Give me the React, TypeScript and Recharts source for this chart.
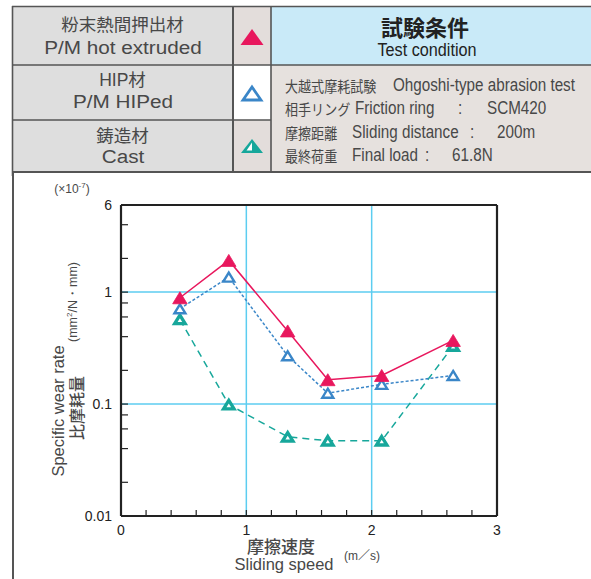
import { LineChart, Line, XAxis, YAxis, ReferenceLine } from 'recharts'

// sliding speed (m/s) and specific wear rate (x10^-7 mm2/N·mm)
const speeds = [0.47, 0.86, 1.33, 1.65, 2.08, 2.65]
const hotExtruded = [0.89, 1.92, 0.45, 0.165, 0.18, 0.37]
const hiped = [0.71, 1.36, 0.27, 0.125, 0.15, 0.18]
const cast = [0.57, 0.099, 0.051, 0.047, 0.047, 0.33]

const xTicks = [0, 0.2, 0.4, 0.6, 0.8, 1, 1.2, 1.4, 1.6, 1.8, 2, 2.2, 2.4, 2.6, 2.8, 3]
const xLabels = [0, 1, 2, 3]
const yTicks = [0.01, 0.02, 0.04, 0.06, 0.08, 0.1, 0.2, 0.4, 0.6, 0.8, 1, 2, 4, 6]
const yLabels = [0.01, 0.1, 1, 6]
const gridX = [1, 2]
const gridY = [0.1, 1]

const materialJa = ['粉末熱間押出材', 'HIP材', '鋳造材']
const materialEn = ['P/M hot extruded', 'P/M HIPed', 'Cast']
const conditionJa = ['大越式摩耗試験', '相手リング', '摩擦距離', '最終荷重']
const conditionEn = ['Ohgoshi-type abrasion test', 'Friction ring', 'Sliding distance', 'Final load']
const conditionValue = ['', 'SCM420', '200m', '61.8N']

const RED = '#e8175d'
const BLUE = '#3a86c8'
const TEAL = '#17a79b'
const GRID = '#5ccdf0'
const INK = '#222'
const TEXT = '#484848'
const LINE = '#555'
const SANS = '"Liberation Sans", Arial, sans-serif'
const CJK = '"Liberation Sans", "Noto Sans CJK JP", sans-serif'

// layout of the table
const matJaY = [26, 80.5, 137]
const matEnY = [47.5, 102, 157]
const condY = [86, 109, 133, 156]
const condEnX = [393, 355, 352, 352]
const condColonX = [0, 458, 470, 425]
const condValX = [0, 487, 497, 452]

const toPoints = (ys: number[]) => speeds.map((x, i) => ({ x, y: ys[i] }))

const triPath = (cx: number, cy: number, w: number, h: number) =>
  `M${cx},${cy - h / 2}L${cx + w / 2},${cy + h / 2}L${cx - w / 2},${cy + h / 2}Z`

function Txt({ x, y, size, children, scale = 1, weight = 400, left = false, rotate = false, font = CJK, color = TEXT }: any) {
  let transform = left ? 'translate(0,-50%)' : 'translate(-50%,-50%)'
  if (rotate) transform += ' rotate(-90deg)'
  if (scale !== 1) transform += ` scaleX(${scale})`
  return (
    <div
      style={{
        position: 'absolute',
        left: x,
        top: y,
        transform,
        transformOrigin: left ? 'left center' : 'center center',
        fontSize: size,
        fontWeight: weight,
        fontFamily: font,
        color,
        lineHeight: 1,
        whiteSpace: 'nowrap',
      }}
    >
      {children}
    </div>
  )
}

function YTick(props: any) {
  const { x, y, payload } = props
  if (!yLabels.includes(payload.value)) return <g />
  return (
    <text x={x} y={y} dy="0.36em" textAnchor="end" fontSize={14} fill={INK} fontFamily={SANS}>
      {String(payload.value)}
    </text>
  )
}

function XTick(props: any) {
  const { x, y, payload } = props
  if (!xLabels.includes(payload.value)) return <g />
  return (
    <text x={x} y={y} dy="0.71em" textAnchor="middle" fontSize={14} fill={INK} fontFamily={SANS}>
      {String(payload.value)}
    </text>
  )
}

const redDot = (p: any) => (
  <path key={`r${p.index}`} d={triPath(p.cx, p.cy, 14.5, 12)} fill={RED} stroke={RED} strokeWidth={0.8} />
)
const blueDot = (p: any) => (
  <path key={`b${p.index}`} d={triPath(p.cx, p.cy, 11, 9)} fill="#fff" stroke={BLUE} strokeWidth={2.4} />
)
const tealDot = (p: any) => (
  <path key={`t${p.index}`} d={triPath(p.cx, p.cy, 10.5, 8.5)} fill="#fff" stroke={TEAL} strokeWidth={3.3} />
)

function Table() {
  return (
    <svg width={591} height={176} style={{ position: 'absolute', left: 0, top: 0 }}>
      <rect x={12} y={6} width={221} height={166} fill="#dedede" />
      <rect x={233} y={6} width={38} height={59} fill="#e3dddb" />
      <rect x={233} y={65} width={38} height={55} fill="#fff" />
      <rect x={233} y={120} width={38} height={52} fill="#e3dddb" />
      <rect x={271} y={6} width={320} height={59} fill="#c9eaf8" />
      <rect x={271} y={65} width={320} height={107} fill="#e6e1de" />
      <g stroke={LINE} strokeWidth={1.6}>
        <line x1={12} y1={6.5} x2={591} y2={6.5} />
        <line x1={12} y1={65} x2={591} y2={65} />
        <line x1={12} y1={120} x2={271} y2={120} />
        <line x1={12} y1={172} x2={591} y2={172} strokeWidth={2} />
        <line x1={12.5} y1={6} x2={12.5} y2={176} />
        <line x1={233} y1={6} x2={233} y2={172} strokeWidth={2} />
        <line x1={271} y1={6} x2={271} y2={172} />
      </g>
      <path d={triPath(252, 37, 23, 16)} fill={RED} />
      <path d={triPath(252, 93.5, 18, 13)} fill="none" stroke={BLUE} strokeWidth={2.8} />
      <path d={triPath(252, 146, 22, 14)} fill={TEAL} />
      <path d="M246.5,150.5L252,150.5L252,142.5Z" fill="#fff" />
    </svg>
  )
}

export default function App() {
  return (
    <div
      style={{
        position: 'absolute',
        left: 0,
        top: 0,
        width: 591,
        height: 579,
        overflow: 'hidden',
        background: '#fff',
        fontFamily: SANS,
      }}
    >
      <Table />
      <div style={{ position: 'absolute', left: 12, top: 172, width: 1.6, height: 420, background: LINE }} />

      {materialJa.map((t, i) => (
        <Txt key={`mj${i}`} x={122.5} y={matJaY[i]} size={17.5}>
          {t}
        </Txt>
      ))}
      {materialEn.map((t, i) => (
        <Txt key={`me${i}`} x={122.5} y={matEnY[i]} size={18} scale={1.15} font={SANS}>
          {t}
        </Txt>
      ))}

      <Txt x={425} y={29} size={22} weight={700} color="#222">
        試験条件
      </Txt>
      <Txt x={426.5} y={50} size={18} scale={0.9} font={SANS} color="#222">
        Test condition
      </Txt>

      {conditionJa.map((t, i) => (
        <Txt key={`cj${i}`} x={285} y={condY[i]} size={15} scale={0.87} left>
          {t}
        </Txt>
      ))}
      {conditionEn.map((t, i) => (
        <Txt key={`ce${i}`} x={condEnX[i]} y={condY[i]} size={17.5} scale={0.87} left font={SANS}>
          {t}
        </Txt>
      ))}
      {conditionValue.map((t, i) =>
        t ? (
          <div key={`cv${i}`}>
            <Txt x={condColonX[i]} y={condY[i]} size={17.5} scale={0.87} left font={SANS}>
              :
            </Txt>
            <Txt x={condValX[i]} y={condY[i]} size={17.5} scale={0.87} left font={SANS}>
              {t}
            </Txt>
          </div>
        ) : null
      )}

      <div style={{ position: 'absolute', left: 0, top: 172 }}>
        <LineChart width={591} height={407} margin={{ top: 23, right: 84, bottom: 33, left: 61 }}>
          <XAxis
            dataKey="x"
            type="number"
            domain={[0, 3]}
            ticks={xTicks}
            interval={0}
            allowDataOverflow
            height={30}
            tickSize={-6}
            tickMargin={15}
            tick={XTick}
            axisLine={{ stroke: INK, strokeWidth: 2.2 }}
            tickLine={{ stroke: INK, strokeWidth: 1.2 }}
          />
          <XAxis
            xAxisId="top"
            orientation="top"
            dataKey="x"
            type="number"
            domain={[0, 3]}
            ticks={xTicks}
            interval={0}
            allowDataOverflow
            height={10}
            tickSize={-6}
            tick={false}
            axisLine={{ stroke: INK, strokeWidth: 2.2 }}
            tickLine={{ stroke: INK, strokeWidth: 1.2 }}
          />
          <YAxis
            dataKey="y"
            type="number"
            scale="log"
            domain={[0.01, 6]}
            ticks={yTicks}
            interval={0}
            allowDataOverflow
            width={60}
            tickSize={-7}
            tickMargin={16}
            tick={YTick}
            axisLine={{ stroke: INK, strokeWidth: 2.2 }}
            tickLine={{ stroke: INK, strokeWidth: 1.2 }}
          />
          <YAxis
            yAxisId="right"
            orientation="right"
            dataKey="y"
            type="number"
            scale="log"
            domain={[0.01, 6]}
            ticks={yTicks}
            interval={0}
            allowDataOverflow
            width={10}
            tickSize={-7}
            tick={false}
            axisLine={{ stroke: INK, strokeWidth: 2.2 }}
            tickLine={{ stroke: INK, strokeWidth: 1.2 }}
          />
          {gridX.map((v) => (
            <ReferenceLine key={`gx${v}`} x={v} stroke={GRID} strokeWidth={1.5} />
          ))}
          {gridY.map((v) => (
            <ReferenceLine key={`gy${v}`} y={v} stroke={GRID} strokeWidth={1.5} />
          ))}
          <Line
            data={toPoints(cast)}
            dataKey="y"
            stroke={TEAL}
            strokeWidth={1.5}
            strokeDasharray="7 5"
            dot={tealDot}
            isAnimationActive={false}
          />
          <Line
            data={toPoints(hiped)}
            dataKey="y"
            stroke={BLUE}
            strokeWidth={1.5}
            strokeDasharray="3 2"
            dot={blueDot}
            isAnimationActive={false}
          />
          <Line
            data={toPoints(hotExtruded)}
            dataKey="y"
            stroke={RED}
            strokeWidth={1.5}
            dot={redDot}
            isAnimationActive={false}
          />
        </LineChart>
      </div>

      <Txt x={72} y={188} size={12} font={SANS}>
        (×10<sup style={{ fontSize: 8 }}>-7</sup>)
      </Txt>
      <Txt x={58} y={411} size={16.5} rotate font={SANS}>
        Specific wear rate
      </Txt>
      <Txt x={73} y={302} size={12.5} rotate font={SANS}>
        (mm<sup style={{ fontSize: 8 }}>2</sup>/N・mm)
      </Txt>
      <Txt x={78} y={408} size={16} rotate weight={500}>
        比摩耗量
      </Txt>
      <Txt x={281} y={547} size={17} weight={500}>
        摩擦速度
      </Txt>
      <Txt x={284} y={564} size={16.5} font={SANS}>
        Sliding speed
      </Txt>
      <Txt x={362} y={556} size={12}>
        (m／s)
      </Txt>
    </div>
  )
}
